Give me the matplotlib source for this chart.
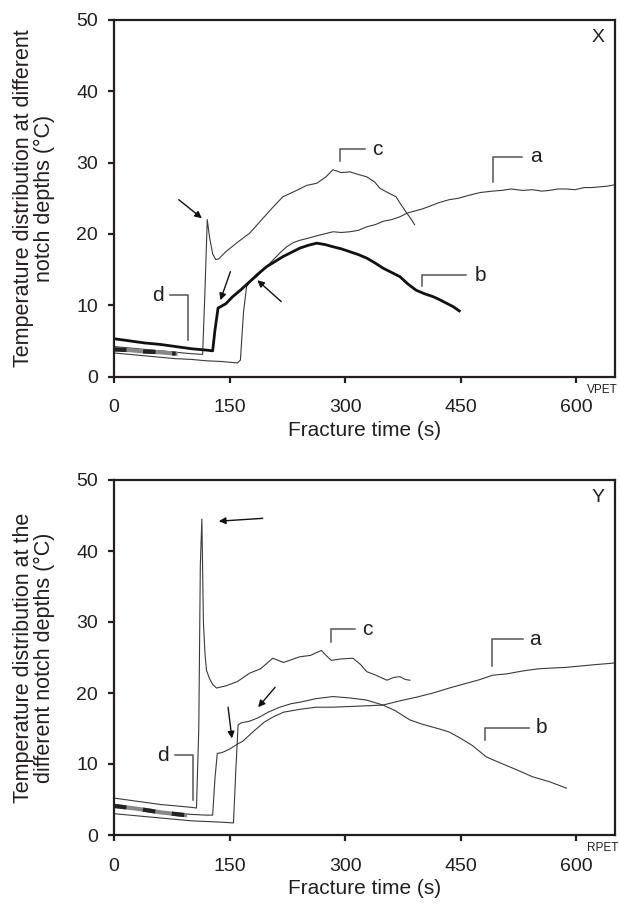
import matplotlib
matplotlib.use("Agg")
import matplotlib.pyplot as plt

plt.rcParams['font.family'] = ['Liberation Sans', 'DejaVu Sans']

# ---------------- Panel X (VPET) ----------------
xa_t = [0, 20, 40, 60, 80, 100, 120, 140, 160, 164, 168, 172, 176, 185, 195, 206, 215, 224, 233, 241, 252, 262, 273, 284, 295, 306, 317, 328, 339, 350, 360, 371, 380, 390, 400, 410, 422, 435, 447, 460, 475, 491, 503, 515, 530, 543, 555, 565, 576, 587, 598, 610, 620, 630, 640, 650]
xa_T = [3.3, 3.1, 2.9, 2.7, 2.5, 2.4, 2.2, 2.1, 1.9, 2.3, 9.0, 12.6, 13.2, 14.0, 15.1, 16.3, 17.3, 18.2, 18.8, 19.1, 19.4, 19.7, 20.0, 20.3, 20.2, 20.3, 20.5, 21.0, 21.3, 21.8, 22.0, 22.4, 22.9, 23.2, 23.5, 23.9, 24.4, 24.8, 25.0, 25.4, 25.8, 26.0, 26.1, 26.3, 26.1, 26.2, 26.0, 26.1, 26.3, 26.3, 26.2, 26.5, 26.5, 26.6, 26.7, 26.9]

xb_t = [0, 20, 40, 60, 80, 100, 120, 128, 131, 135, 145, 154, 165, 176, 187, 198, 210, 219, 230, 241, 252, 263, 274, 284, 295, 306, 317, 328, 339, 349, 360, 371, 381, 392, 403, 414, 422, 431, 440, 448]
xb_T = [5.3, 5.0, 4.7, 4.5, 4.2, 3.9, 3.7, 3.6, 6.5, 9.6, 10.2, 11.2, 12.2, 13.3, 14.4, 15.4, 16.2, 16.8, 17.4, 18.0, 18.4, 18.7, 18.5, 18.2, 17.9, 17.5, 17.1, 16.6, 15.9, 15.2, 14.6, 14.0, 13.0, 12.1, 11.6, 11.2, 10.8, 10.3, 9.8, 9.2]

xc_t = [0, 20, 40, 60, 80, 100, 115, 118, 121, 124, 128, 132, 136, 145, 160, 176, 190, 205, 219, 235, 250, 263, 275, 284, 295, 306, 318, 328, 338, 345, 355, 366, 373, 380, 386, 390]
xc_T = [4.2, 4.0, 3.8, 3.6, 3.4, 3.2, 3.1, 12.0, 22.0, 19.5, 17.2, 16.4, 16.5, 17.5, 18.8, 20.1, 21.8, 23.6, 25.2, 26.0, 26.8, 27.1, 28.0, 29.0, 28.6, 28.7, 28.3, 28.0, 27.3, 26.4, 25.8, 25.2, 24.0, 22.9, 22.0, 21.3]

xd_t = [0, 20, 40, 60, 80]
xd_T = [3.8, 3.7, 3.5, 3.4, 3.2]

# ---------------- Panel Y (RPET) ----------------
ya_t = [0, 20, 40, 60, 80, 100, 120, 128, 131, 134, 140, 150, 160, 167, 180, 195, 206, 220, 241, 262, 284, 306, 328, 349, 371, 392, 414, 435, 455, 475, 491, 510, 530, 550, 565, 585, 605, 625, 647, 650]
ya_T = [3.9, 3.7, 3.5, 3.3, 3.1, 2.9, 2.8, 2.8, 8.0, 11.5, 11.6, 12.1, 12.8, 13.2, 14.5, 15.9, 16.6, 17.3, 17.7, 18.0, 18.0, 18.1, 18.2, 18.3, 18.9, 19.4, 20.0, 20.7, 21.3, 21.9, 22.5, 22.7, 23.1, 23.4, 23.5, 23.6, 23.8, 24.0, 24.2, 24.3]

yb_t = [0, 20, 40, 60, 80, 100, 120, 140, 155, 158, 161, 165, 175, 187, 200, 215, 230, 241, 262, 284, 306, 328, 349, 365, 384, 400, 420, 435, 450, 465, 483, 500, 520, 543, 565, 587]
yb_T = [3.0, 2.8, 2.6, 2.4, 2.2, 2.0, 1.9, 1.8, 1.7, 9.0, 15.5, 15.8, 16.0, 16.5, 17.3, 18.0, 18.5, 18.7, 19.2, 19.5, 19.3, 19.0, 18.3, 17.5, 16.2, 15.6, 15.0, 14.5, 13.6, 12.6, 11.0, 10.2, 9.3, 8.2, 7.5, 6.6]

yc_t = [0, 20, 40, 60, 80, 100, 107, 110, 112, 114, 116, 118, 120, 124, 128, 133, 145, 160, 176, 190, 206, 220, 241, 255, 269, 276, 282, 295, 310, 320, 328, 340, 354, 363, 371, 378, 384]
yc_T = [5.2, 4.9, 4.6, 4.3, 4.1, 3.9, 3.8, 15.0, 38.0, 44.5, 30.0, 25.6, 23.2, 22.0, 21.2, 20.7, 21.0, 21.6, 22.8, 23.4, 24.9, 24.3, 25.1, 25.3, 26.0, 25.2, 24.6, 24.8, 24.9, 24.0, 23.0, 22.5, 21.8, 22.2, 22.3, 21.9, 21.8]

yd_t = [0, 30, 60, 92]
yd_T = [4.1, 3.7, 3.2, 2.8]

x_ticks = [0, 150, 300, 450, 600]
y_ticks = [0, 10, 20, 30, 40, 50]

spine_col = '#231f20'
line_col = '#3a3a3a'
brk_col = '#555555'

fig = plt.figure(figsize=(6.2, 9.07), dpi=100)
ax1 = fig.add_axes([114/620, 1-376.5/907, 501/620, 356.5/907])
ax2 = fig.add_axes([114/620, 1-835/907, 501/620, 355/907])


def style(ax, ylabel, tag, corner):
    ax.set_xlim(0, 650)
    ax.set_ylim(0, 50)
    ax.set_xticks(x_ticks)
    ax.set_yticks(y_ticks)
    for s in ax.spines.values():
        s.set_linewidth(1.6)
        s.set_color(spine_col)
    ax.tick_params(direction='out', length=4.5, width=1.6, color=spine_col,
                   labelsize=14, labelcolor='#231f20')
    ax.tick_params(axis='x', pad=12)
    ax.tick_params(axis='y', pad=7)
    ax.set_xlabel('Fracture time (s)', fontsize=15, color='#231f20', labelpad=3)
    ax.set_ylabel(ylabel, fontsize=15.5, color='#231f20', linespacing=1.0)
    ax.yaxis.set_label_coords(-0.118, 0.5)
    ax.text(0.967, 0.95, tag, transform=ax.transAxes, fontsize=14,
            ha='center', va='center', color='#231f20')
    ax.text(1.006, -0.037, corner, transform=ax.transAxes, fontsize=8.5,
            ha='right', va='center', color='#231f20')


def bracket(ax, x0, x1, yh, ylow, label, lx):
    ax.plot([x0, x0, x1], [ylow, yh, yh], color=brk_col, lw=1.1, solid_joinstyle='miter')
    ax.text(lx, yh, label, fontsize=15, ha='center', va='center', color='#231f20')


def arrow(ax, start, end):
    ax.annotate('', xy=end, xytext=start,
                arrowprops=dict(arrowstyle='-|>', color='#111111', lw=1.0,
                                mutation_scale=10, shrinkA=0, shrinkB=0))


# Panel X
ax1.plot(xa_t, xa_T, color=line_col, lw=0.8)
ax1.plot(xc_t, xc_T, color=line_col, lw=0.8)
ax1.plot(xb_t, xb_T, color='#111111', lw=2.0)
ax1.plot(xd_t, xd_T, color='#888888', lw=3.0)
ax1.plot(xd_t, xd_T, color='#222222', lw=3.0, dashes=(3, 4))
style(ax1, 'Temperature distribution at different\nnotch depths (\u00b0C)', 'X', 'VPET')
bracket(ax1, 293, 326, 31.9, 30.2, 'c', 341)
bracket(ax1, 492, 529, 30.8, 27.3, 'a', 548)
bracket(ax1, 400, 457, 14.2, 12.7, 'b', 475)
ax1.plot([73, 96, 96], [11.4, 11.4, 5.1], color=brk_col, lw=1.1)
ax1.text(57, 11.4, 'd', fontsize=15, ha='center', va='center', color='#231f20')
arrow(ax1, (84, 24.8), (114, 22.2))
arrow(ax1, (151, 14.7), (138, 10.7))
arrow(ax1, (217, 10.5), (186, 13.5))

# Panel Y
ax2.plot(ya_t, ya_T, color=line_col, lw=0.8)
ax2.plot(yb_t, yb_T, color=line_col, lw=0.8)
ax2.plot(yc_t, yc_T, color=line_col, lw=0.8)
ax2.plot(yd_t, yd_T, color='#888888', lw=3.0)
ax2.plot(yd_t, yd_T, color='#222222', lw=3.0, dashes=(3, 4))
style(ax2, 'Temperature distribution at the\ndifferent notch depths (\u00b0C)', 'Y', 'RPET')
bracket(ax2, 281, 313, 29.0, 27.2, 'c', 329)
bracket(ax2, 491, 530, 27.6, 23.8, 'a', 546)
bracket(ax2, 481, 539, 15.1, 13.4, 'b', 555)
ax2.plot([79, 103, 103], [11.2, 11.2, 4.9], color=brk_col, lw=1.1)
ax2.text(63, 11.2, 'd', fontsize=15, ha='center', va='center', color='#231f20')
arrow(ax2, (193, 44.6), (136, 44.2))
arrow(ax2, (148, 18.0), (153, 13.6))
arrow(ax2, (209, 20.8), (187, 18.0))

fig.savefig('out.png', dpi=100)
